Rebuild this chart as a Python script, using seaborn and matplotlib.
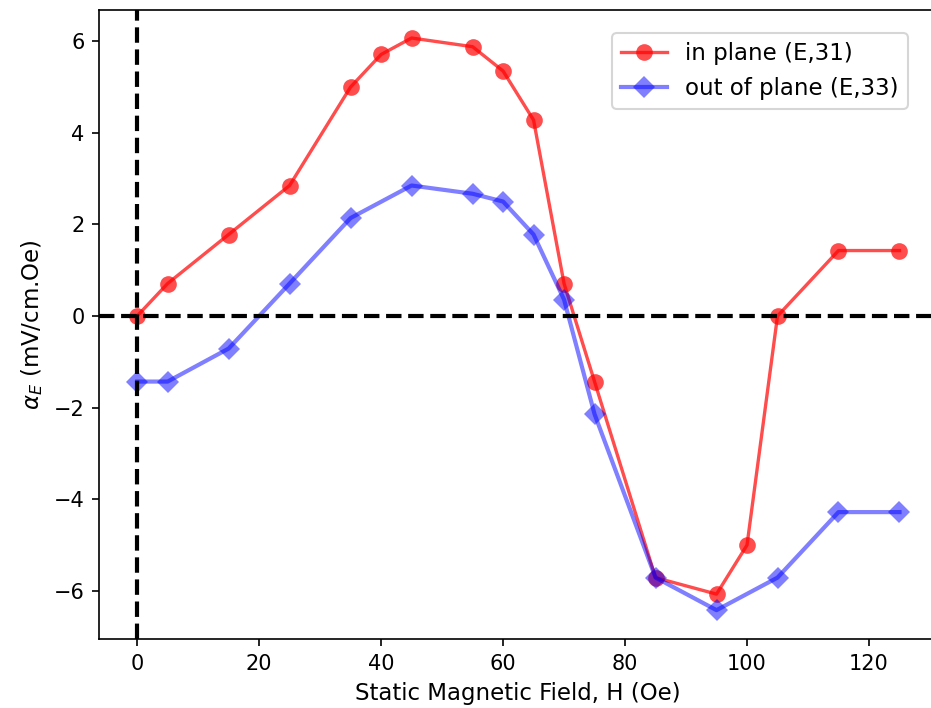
import matplotlib
matplotlib.use("Agg")
import matplotlib.pyplot as plt
import seaborn as sns

# field values (Oe)
h_in = [0, 5, 15, 25, 35, 40, 45, 55, 60, 65, 70, 75, 85, 95, 100, 105, 115, 125]
alpha_in = [0, 0.71, 1.78, 2.85, 5.0, 5.71, 6.07, 5.88, 5.35, 4.28, 0.71, -1.43, -5.71, -6.07, -5.0, 0, 1.43, 1.43]

h_out = [0, 5, 15, 25, 35, 45, 55, 60, 65, 70, 75, 85, 95, 105, 115, 125]
alpha_out = [-1.43, -1.43, -0.71, 0.71, 2.14, 2.85, 2.67, 2.5, 1.78, 0.36, -2.14, -5.71, -6.42, -5.71, -4.28, -4.28]

label_in = "in plane (E,31)"
label_out = "out of plane (E,33)"

# plain matplotlib look, no seaborn theme
plt.rcParams["font.family"] = ["DejaVu Sans"]

fig = plt.figure(figsize=(932 / 150, 708 / 150), dpi=150)
ax = fig.add_axes([99 / 932, 69 / 708, 838.6 / 932, 629.4 / 708])

sns.lineplot(x=h_in, y=alpha_in, ax=ax, color="red", alpha=0.7, marker="o",
             markersize=8, mec="red", mew=0, linewidth=1.6, label=label_in)
sns.lineplot(x=h_out, y=alpha_out, ax=ax, color="blue", alpha=0.5, marker="D",
             markersize=7.5, mec="blue", mew=0, linewidth=2, label=label_out)

ax.axhline(0, color="black", linestyle="--", linewidth=2)
ax.axvline(0, color="black", linestyle="--", linewidth=2)

ax.set_xlim(-6.25, 131.25)
ax.set_ylim(-7.05, 6.69)
ax.set_xticks([0, 20, 40, 60, 80, 100, 120])
ax.set_yticks([-6, -4, -2, 0, 2, 4, 6])
ax.tick_params(labelsize=10)
ax.set_xlabel("Static Magnetic Field, H (Oe)", fontsize=11)
ax.set_ylabel(r"$\alpha_E$ (mV/cm.Oe)", fontsize=11)

ax.legend(loc="upper right", bbox_to_anchor=(908 / 932, 1 - 33 / 708),
          bbox_transform=fig.transFigure, borderaxespad=0, fontsize=11)

fig.savefig("out.png", dpi=150)
